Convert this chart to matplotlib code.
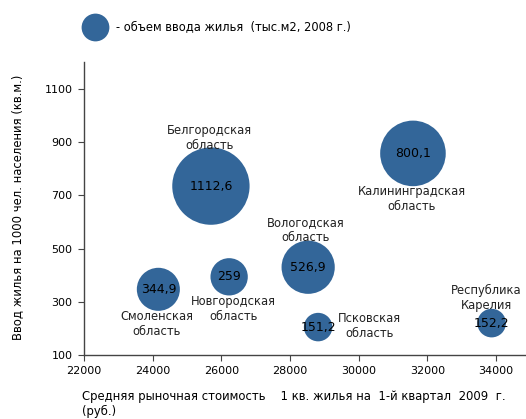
import matplotlib
matplotlib.use("Agg")
import matplotlib.pyplot as plt
from matplotlib.lines import Line2D

# Data
regions = ["Белгородская\nобласть", "Калининградская\nобласть", "Вологодская\nобласть",
           "Новгородская\nобласть", "Смоленская\nобласть", "Псковская\nобласть",
           "Республика\nКарелия"]
price = [25700, 31580, 28530, 26230, 24170, 28820, 33870]      # руб. за кв.м
housing = [735, 858, 430, 394, 347, 205, 220]                  # кв.м на 1000 чел.
volume = [1112.6, 800.1, 526.9, 259, 344.9, 151.2, 152.2]      # тыс.м2, 2008
value_labels = ["1112,6", "800,1", "526,9", "259", "344,9", "151,2", "152,2"]
# label offsets (points) relative to bubble centre
label_offsets = [(-1, 35), (-1, -33), (-2, 27), (3, -23), (-1, -25), (37, 1), (-4, 18)]

color = "#336699"
plt.rcParams["font.family"] = ["DejaVu Sans"]
fs = 8.3

fig = plt.figure(figsize=(5.26, 4.19), dpi=100)
ax = fig.add_axes([0.1593, 0.1527, 0.8407, 0.6983])

max_s = 3100
sizes = [max_s * v / max(volume) for v in volume]
ax.scatter(price, housing, s=sizes, color=color, edgecolor="none", zorder=2)

for x, y, name, val, off in zip(price, housing, regions, value_labels, label_offsets):
    ax.annotate(val, (x, y), ha="center", va="center", fontsize=9, color="black", zorder=3)
    ax.annotate(name, (x, y), xytext=off, textcoords="offset points",
                ha="center", va="center", fontsize=fs, color="#222222",
                linespacing=1.2)

ax.set_xlim(22000, 34870)
ax.set_ylim(100, 1200)
ax.set_xticks(range(22000, 34001, 2000))
ax.set_yticks(range(100, 1101, 200))
ax.tick_params(labelsize=8, length=4, color="#444444", direction="out", pad=4)
for side in ["top", "right"]:
    ax.spines[side].set_visible(False)
for side in ["left", "bottom"]:
    ax.spines[side].set_color("#444444")
    ax.spines[side].set_linewidth(1.0)

fig.text(18 / 526, 1 - 207 / 419, "Ввод жилья на 1000 чел. населения (кв.м.)",
         rotation=90, ha="center", va="center", fontsize=8.4)
fig.text(82 / 526, 1 - 404 / 419,
         "Средняя рыночная стоимость    1 кв. жилья на  1-й квартал  2009  г.\n(руб.)",
         ha="left", va="center", fontsize=8.4, linespacing=1.15)

# legend
fig.add_artist(Line2D([95 / 526], [1 - 27 / 419], marker="o", markersize=20,
                      color=color, markeredgecolor="none", linestyle="none",
                      transform=fig.transFigure))
fig.text(116 / 526, 1 - 27 / 419, "- объем ввода жилья  (тыс.м2, 2008 г.)",
         ha="left", va="center", fontsize=8.3)

fig.savefig("out.png", dpi=100)
